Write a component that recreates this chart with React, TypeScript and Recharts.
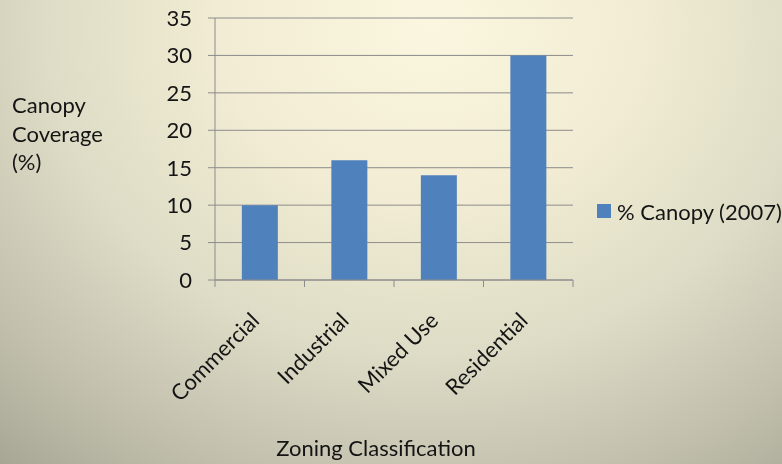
import React from "react";
import { BarChart, Bar, XAxis, YAxis, CartesianGrid, Legend } from "recharts";

const categories = ["Commercial", "Industrial", "Mixed Use", "Residential"];
const canopy2007 = [10, 16, 14, 30];
const yTicks = [0, 5, 10, 15, 20, 25, 30, 35];
const seriesName = "% Canopy (2007)";

const data = categories.map((c, i) => ({ zone: c, value: canopy2007[i] }));

const FONT = "Lato, 'Open Sans', sans-serif";
const GRID = "#8c8c8c";
const BAR = "#4f81bd";
const TXT = "#141414";

const XTick = (props: any) => {
  const { x, y, payload, index } = props;
  const off = payload.offset || 0;
  const lx = x + 1;
  const ly = y + 35;
  return (
    <g>
      <line x1={x - off} x2={x - off} y1={y - 7} y2={y} stroke={GRID} strokeWidth={1} />
      {index === categories.length - 1 ? (
        <line x1={x + off} x2={x + off} y1={y - 7} y2={y} stroke={GRID} strokeWidth={1} />
      ) : null}
      <text
        x={lx}
        y={ly}
        textAnchor="end"
        transform={`rotate(-45, ${lx}, ${ly})`}
        fontFamily={FONT}
        fontSize={22}
        fill={TXT}
      >
        {payload.value}
      </text>
    </g>
  );
};

const LegendContent = () => (
  <div style={{ display: "flex", alignItems: "center", fontFamily: FONT, fontSize: 22, color: TXT, whiteSpace: "nowrap", height: 28 }}>
    <span style={{ display: "inline-block", width: 14, height: 14, background: BAR, marginRight: 6 }} />
    <span>{seriesName}</span>
  </div>
);

export default function App() {
  return (
    <div
      style={{
        position: "fixed",
        left: 0,
        top: 0,
        width: 782,
        height: 464,
        overflow: "hidden",
        background:
          "radial-gradient(ellipse 90% 130% at 55% 5%, #fbf6df 0%, #f1ecd3 30%, #dedcc6 55%, #c2c0ad 78%, #a09f8e 100%)",
      }}
    >
      <BarChart
        width={782}
        height={464}
        data={data}
        margin={{ top: 18, right: 24, bottom: 84, left: 0 }}
        barCategoryGap="30%"
        style={{ position: "absolute", left: 0, top: 0 }}
      >
        <CartesianGrid horizontal={true} vertical={false} stroke={GRID} strokeWidth={1} />
        <XAxis
          dataKey="zone"
          height={100}
          axisLine={{ stroke: GRID, strokeWidth: 1 }}
          tickLine={false}
          tickSize={7}
          tickMargin={0}
          interval={0}
          tick={<XTick />}
        />
        <YAxis
          width={215}
          domain={[0, 35]}
          ticks={yTicks}
          interval={0}
          axisLine={{ stroke: GRID, strokeWidth: 1 }}
          tickLine={{ stroke: GRID, strokeWidth: 1 }}
          tickSize={7}
          tickMargin={16}
          tick={{ fontFamily: FONT, fontSize: 22, fill: TXT }}
        />
        <Bar dataKey="value" name={seriesName} fill={BAR} isAnimationActive={false} />
        <Legend
          layout="vertical"
          align="right"
          verticalAlign="middle"
          content={<LegendContent />}
          wrapperStyle={{ position: "absolute", left: 597, top: 197, width: 185 }}
        />
      </BarChart>
      <div
        style={{
          position: "absolute",
          left: 12,
          top: 91,
          fontFamily: FONT,
          fontSize: 22,
          lineHeight: "28.5px",
          color: TXT,
        }}
      >
        Canopy
        <br />
        Coverage
        <br />
        (%)
      </div>
      <div
        style={{
          position: "absolute",
          left: 0,
          width: 752,
          top: 434,
          textAlign: "center",
          fontFamily: FONT,
          fontSize: 22,
          lineHeight: "28px",
          color: TXT,
        }}
      >
        Zoning Classification
      </div>
    </div>
  );
}
